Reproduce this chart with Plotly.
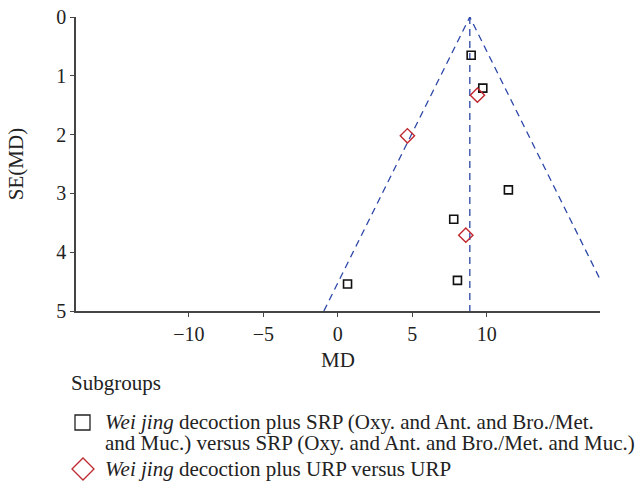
import plotly.graph_objects as go

# ---- data ----
srp_md = [8.95, 9.73, 11.45, 7.78, 8.03, 0.65]
srp_se = [0.65, 1.21, 2.94, 3.44, 4.48, 4.54]
urp_md = [9.37, 4.67, 8.59]
urp_se = [1.33, 2.02, 3.71]
pooled_md = 8.86
z_mult = 1.96
se_max = 5
x_ticks = [-10, -5, 0, 5, 10]
y_ticks = [0, 1, 2, 3, 4, 5]
legend_title = "Subgroups"
legend_srp_1 = "<i>Wei jing</i> decoction plus SRP (Oxy. and Ant. and Bro./Met."
legend_srp_2 = "and Muc.) versus SRP (Oxy. and Ant. and Bro./Met. and Muc.)"
legend_urp = "<i>Wei jing</i> decoction plus URP versus URP"

W, H = 635, 485
L, R, T, B = 76, 35, 17, 174
pw, ph = W - L - R, H - T - B

def px(x):
    return (x - L) / pw

def py(y):
    return (H - B - y) / ph

serif = "Liberation Serif"
blue = "#2b46a8"
txt = "#222222"

fig = go.Figure()

# funnel lines
fig.add_trace(go.Scatter(
    x=[pooled_md - z_mult * se_max, pooled_md, pooled_md + z_mult * se_max],
    y=[se_max, 0, se_max], mode="lines",
    line=dict(color=blue, width=1.3, dash="7px,5px"), showlegend=False, hoverinfo="skip"))
fig.add_trace(go.Scatter(
    x=[pooled_md, pooled_md], y=[0, se_max], mode="lines",
    line=dict(color=blue, width=1.3, dash="7px,5px"), showlegend=False, hoverinfo="skip"))

fig.add_trace(go.Scatter(
    x=srp_md, y=srp_se, mode="markers", showlegend=False,
    marker=dict(symbol="square-open", size=8, color="#111111", line=dict(width=1.6))))
fig.add_trace(go.Scatter(
    x=urp_md, y=urp_se, mode="markers", showlegend=False,
    marker=dict(symbol="diamond-open", size=11, color="#c0262d", line=dict(width=1.4))))

fig.update_xaxes(
    range=[-17.58, 17.6], tickvals=x_ticks, ticks="outside", ticklen=4, tickcolor="#444",
    showline=True, linecolor="#444", linewidth=1.5, showgrid=False, zeroline=False,
    automargin=False,
    tickfont=dict(family=serif, size=20, color=txt),
    title=dict(text="MD", font=dict(family=serif, size=21, color=txt), standoff=9))
fig.update_yaxes(
    range=[se_max, 0], tickvals=y_ticks, ticks="outside", ticklen=4, tickcolor="#444",
    showline=True, linecolor="#444", linewidth=1.5, showgrid=False, zeroline=False,
    automargin=False,
    tickfont=dict(family=serif, size=20, color=txt),
    title=dict(text="SE(MD)", font=dict(family=serif, size=21, color=txt), standoff=27))

# legend (drawn manually)
def note(text, x, y):
    fig.add_annotation(x=px(x), y=py(y), xref="paper", yref="paper", text=text,
                       showarrow=False, xanchor="left", yanchor="middle", align="left",
                       borderpad=0, font=dict(family=serif, size=21, color=txt))

note(legend_title, 70, 383)
note(legend_srp_1, 104, 422)
note(legend_srp_2, 104, 443)
note(legend_urp, 104, 469)
fig.add_shape(type="rect", xref="paper", yref="paper",
              x0=px(75), x1=px(90), y0=py(415), y1=py(430),
              line=dict(color="#222", width=1.3), fillcolor="rgba(0,0,0,0)")
fig.add_shape(type="path", xref="paper", yref="paper",
              path=f"M {px(72)} {py(469)} L {px(83)} {py(458)} L {px(94)} {py(469)} L {px(83)} {py(480)} Z",
              line=dict(color="#c0262d", width=1.3), fillcolor="rgba(0,0,0,0)")

fig.update_layout(
    width=W, height=H, margin=dict(l=L, r=R, t=T, b=B, autoexpand=False),
    plot_bgcolor="white", paper_bgcolor="white", showlegend=False)

fig.write_html("out.html", config={"displayModeBar": False},
               post_script="document.body.style.margin='0';document.body.style.overflow='hidden';")
